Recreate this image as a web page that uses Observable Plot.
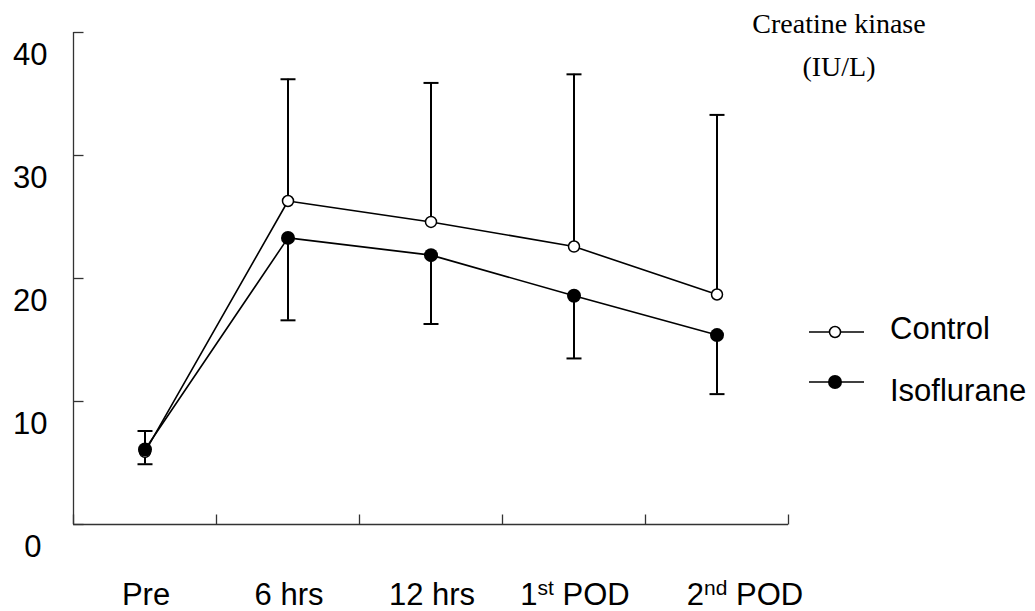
<!DOCTYPE html>
<html>
<head>
<meta charset="utf-8">
<script src="https://cdn.jsdelivr.net/npm/d3@7"></script>
<script src="https://cdn.jsdelivr.net/npm/@observablehq/plot@0.6"></script>
<style>
  html, body { margin: 0; padding: 0; background: #fff; }
  #chart { width: 1035px; height: 611px; }
</style>
</head>
<body>
<div id="chart"></div>
<script>
// ---- data ----
const categories = ["Pre", "6 hrs", "12 hrs", "1st POD", "2nd POD"];
const controlMean = [5.9, 26.3, 24.6, 22.6, 18.7];
const controlSD   = [1.7, 9.9, 11.3, 14.0, 14.6];
const isoMean     = [6.1, 23.3, 21.9, 18.6, 15.4];
const isoSD       = [1.2, 6.7, 5.6, 5.1, 4.8];
const yTicks      = [0, 10, 20, 30, 40];
const seriesNames = ["Control", "Isoflurane"];
const titleLines  = ["Creatine kinase", "(IU/L)"];

// ---- tables built from the arrays ----
const ctrl = categories.map((c, i) => ({i, cat: c, group: seriesNames[0], mean: controlMean[i], sd: controlSD[i]}));
const iso  = categories.map((c, i) => ({i, cat: c, group: seriesNames[1], mean: isoMean[i], sd: isoSD[i]}));
const all = ctrl.concat(iso);
const xBounds = d3.range(categories.length + 1).map(k => k - 0.5);
const cats = categories.map((c, i) => ({i, c}));

// custom symbols: horizontal cap, right-pointing tick, upward tick
const hCap  = {draw(ctx, size) { const w = Math.sqrt(size / Math.PI); ctx.moveTo(-w, 0); ctx.lineTo(w, 0); }};
const rTick = {draw(ctx, size) { const w = Math.sqrt(size / Math.PI); ctx.moveTo(0, 0); ctx.lineTo(w, 0); }};
const uTick = {draw(ctx, size) { const w = Math.sqrt(size / Math.PI); ctx.moveTo(0, 0); ctx.lineTo(0, -w); }};

const FONT = "'Liberation Sans', Arial, Helvetica, sans-serif";

const chart = Plot.plot({
  width: 1035,
  height: 611,
  marginLeft: 73,
  marginRight: 247,
  marginTop: 32,
  marginBottom: 87,
  style: {fontFamily: FONT, fontSize: "31px", background: "white", color: "black"},
  x: {type: "linear", domain: [-0.5, categories.length - 0.5], axis: null},
  y: {type: "linear", domain: [0, 40], axis: null},
  marks: [
    // axes
    Plot.ruleY([0], {stroke: "#333", strokeWidth: 1.3}),
    Plot.ruleX([-0.5], {stroke: "#333", strokeWidth: 1.3}),
    Plot.dot(yTicks, {x: -0.5, y: d => d, symbol: rTick, r: 10, stroke: "#333", strokeWidth: 1.3, fill: "none"}),
    Plot.dot(xBounds, {x: d => d, y: 0, symbol: uTick, r: 10, stroke: "#333", strokeWidth: 1.3, fill: "none"}),
    // y labels
    Plot.text(yTicks.filter(d => d > 0), {x: -0.5, y: d => d, text: d => String(d), dx: -26, dy: 23, textAnchor: "end", fontSize: 31, fill: "black"}),
    Plot.text(yTicks.filter(d => d === 0), {x: -0.5, y: d => d, text: d => String(d), dx: -32, dy: 23, textAnchor: "end", fontSize: 31, fill: "black"}),
    // x labels
    Plot.text(cats.filter(d => d.i < categories.length - 1), {x: "i", y: 0, text: "c", dx: 1, dy: 80, lineAnchor: "bottom", textAnchor: "middle", fontSize: 31, fill: "black"}),
    Plot.text(cats.filter(d => d.i === categories.length - 1), {x: "i", y: 0, text: "c", dx: 28, dy: 80, lineAnchor: "bottom", textAnchor: "middle", fontSize: 31, fill: "black"}),
    // lines
    Plot.line(all, {x: "i", y: "mean", z: "group", stroke: "black", strokeWidth: 1.6}),
    // error bars: control upward, isoflurane downward
    Plot.ruleX(ctrl, {x: "i", y1: "mean", y2: d => d.mean + d.sd, stroke: "black", strokeWidth: 2}),
    Plot.dot(ctrl, {x: "i", y: d => d.mean + d.sd, symbol: hCap, r: 7.5, stroke: "black", strokeWidth: 2, fill: "none"}),
    Plot.ruleX(iso, {x: "i", y1: "mean", y2: d => d.mean - d.sd, stroke: "black", strokeWidth: 2}),
    Plot.dot(iso, {x: "i", y: d => d.mean - d.sd, symbol: hCap, r: 7.5, stroke: "black", strokeWidth: 2, fill: "none"}),
    // points
    Plot.dot(ctrl, {x: "i", y: "mean", r: 5.5, fill: "white", stroke: "black", strokeWidth: 1.5}),
    Plot.dot(iso, {x: "i", y: "mean", r: 7, fill: "black", stroke: "none"})
  ]
});

document.getElementById("chart").appendChild(chart);

// superscripts for ordinal labels (1st, 2nd ...)
const svg = d3.select(chart);
svg.selectAll("text").each(function() {
  const t = this.textContent;
  const m = /^(\d+)(st|nd|rd|th) (.*)$/.exec(t);
  if (!m || this.querySelector("tspan")) return;
  const el = d3.select(this);
  el.text(null);
  el.append("tspan").text(m[1]);
  el.append("tspan").attr("font-size", 21).attr("dy", -10).text(m[2]);
  el.append("tspan").attr("dy", 10).text(" " + m[3]);
});

// title (top right, serif)
const title = svg.append("g").attr("font-family", "'Liberation Serif', 'Times New Roman', serif").attr("font-size", 28).attr("text-anchor", "middle").attr("fill", "black");
title.append("text").attr("x", 839).attr("y", 33).text(titleLines[0]);
title.append("text").attr("x", 839).attr("y", 76).text(titleLines[1]);

// legend
const legend = svg.append("g").attr("font-family", FONT).attr("font-size", 31).attr("fill", "black").attr("text-anchor", "start");
const items = [
  {name: seriesNames[0], y: 332, base: 339, fill: "white", r: 5.5},
  {name: seriesNames[1], y: 382, base: 401, fill: "black", r: 7}
];
items.forEach(it => {
  const g = legend.append("g");
  g.append("line").attr("x1", 809).attr("x2", 864).attr("y1", it.y).attr("y2", it.y).attr("stroke", "black").attr("stroke-width", 1.6);
  g.append("circle").attr("cx", 835).attr("cy", it.y).attr("r", it.r).attr("fill", it.fill).attr("stroke", it.fill === "white" ? "black" : "none").attr("stroke-width", 1.5);
  g.append("text").attr("x", 890).attr("y", it.base).attr("text-anchor", "start").text(it.name);
});
</script>
</body>
</html>
